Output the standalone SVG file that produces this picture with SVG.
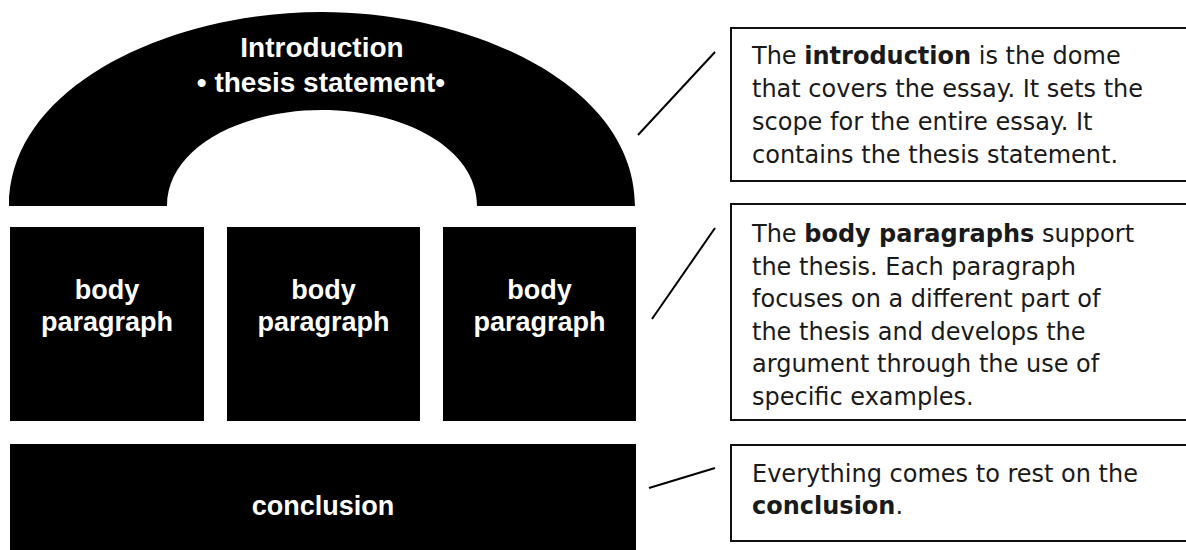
<svg xmlns="http://www.w3.org/2000/svg" width="1186" height="550" viewBox="0 0 1186 550">
<style>
.blk{fill:#000}
.lbl{font-family:"Liberation Sans",Arial,sans-serif;font-weight:bold;font-size:27px;fill:#fff;text-anchor:middle}
.box{fill:#fff;stroke:#111;stroke-width:2}
.txt{font-family:"DejaVu Sans","Liberation Sans",sans-serif;font-size:24px;fill:#1a1a1a}
.b{font-weight:bold}
.con{stroke:#000;stroke-width:2;fill:none}
</style>
<rect width="1186" height="550" fill="#fff"/>
<g id="intro">
<path class="blk" fill-rule="evenodd" d="M9,206 C9,86 170,12 322,12 C474,12 635,86 635,206 Z M167,206 C167,148 240,110 322,110 C404,110 477,148 477,206 Z"/>
<text class="lbl" x="322" y="57" style="font-size:28px">Introduction</text>
<text class="lbl" x="321" y="92" style="font-size:28px">• thesis statement•</text>
</g>
<g id="body1">
<rect class="blk" x="10" y="227" width="194" height="194"/>
<text class="lbl" x="107" y="299">body</text>
<text class="lbl" x="107" y="331">paragraph</text>
</g>
<g id="body2">
<rect class="blk" x="227" y="227" width="193" height="194"/>
<text class="lbl" x="323.5" y="299">body</text>
<text class="lbl" x="323.5" y="331">paragraph</text>
</g>
<g id="body3">
<rect class="blk" x="443" y="227" width="193" height="194"/>
<text class="lbl" x="539.5" y="299">body</text>
<text class="lbl" x="539.5" y="331">paragraph</text>
</g>
<g id="conclusion">
<rect class="blk" x="10" y="444" width="626" height="106"/>
<text class="lbl" x="323" y="515">conclusion</text>
</g>
<g id="note-intro">
<rect class="box" x="731" y="28" width="470" height="153"/>
<text class="txt" x="752" y="64">The <tspan class="b">introduction</tspan> is the dome</text>
<text class="txt" x="752" y="97">that covers the essay. It sets the</text>
<text class="txt" x="752" y="130">scope for the entire essay. It</text>
<text class="txt" x="752" y="163">contains the thesis statement.</text>
</g>
<g id="note-body">
<rect class="box" x="731" y="204" width="470" height="216"/>
<text class="txt" x="752" y="242">The <tspan class="b">body paragraphs</tspan> support</text>
<text class="txt" x="752" y="275">the thesis. Each paragraph</text>
<text class="txt" x="752" y="307">focuses on a different part of</text>
<text class="txt" x="752" y="340">the thesis and develops the</text>
<text class="txt" x="752" y="372">argument through the use of</text>
<text class="txt" x="752" y="405">specific examples.</text>
</g>
<g id="note-conclusion">
<rect class="box" x="731" y="445" width="470" height="96"/>
<text class="txt" x="752" y="482">Everything comes to rest on the</text>
<text class="txt" x="752" y="514"><tspan class="b">conclusion</tspan>.</text>
</g>
<g id="connectors">
<line class="con" x1="715" y1="52" x2="638" y2="135"/>
<line class="con" x1="715" y1="228" x2="652" y2="319"/>
<line class="con" x1="715" y1="468" x2="649" y2="488"/>
</g>
</svg>
